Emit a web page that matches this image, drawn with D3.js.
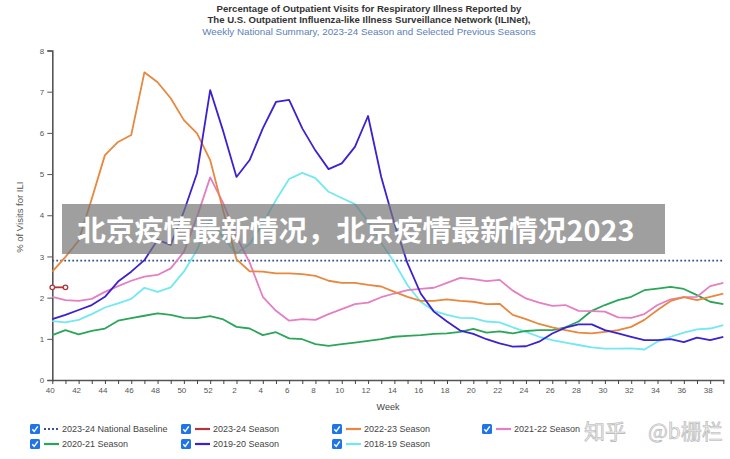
<!DOCTYPE html>
<html>
<head>
<meta charset="utf-8">
<script src="https://cdn.jsdelivr.net/npm/d3@7"></script>
<style>
  html, body { margin: 0; padding: 0; background: #fff; }
  svg { display: block; font-family: "Liberation Sans", Arial, sans-serif; }
</style>
</head>
<body>
<svg id="chart" width="730" height="459"></svg>
<script>
// ---- Data ----
const weeks = [40,41,42,43,44,45,46,47,48,49,50,51,52,1,2,3,4,5,6,7,8,9,10,11,12,13,14,15,16,17,18,19,20,21,22,23,24,25,26,27,28,29,30,31,32,33,34,35,36,37,38,39];
const yTicks = [0,1,2,3,4,5,6,7,8];
const baseline2324 = 2.9;
const season2324 = [2.25, 2.25];
const season2223 = [2.63,2.99,3.38,4.40,5.46,5.78,5.95,7.47,7.23,6.84,6.31,5.99,5.34,4.10,2.93,2.64,2.63,2.59,2.59,2.57,2.53,2.41,2.36,2.36,2.31,2.27,2.14,2.02,1.92,1.92,1.96,1.92,1.90,1.84,1.85,1.58,1.48,1.36,1.28,1.21,1.15,1.13,1.17,1.21,1.29,1.46,1.70,1.92,2.01,1.94,2.02,2.10];
const season2122 = [2.02,1.94,1.92,1.97,2.14,2.28,2.41,2.51,2.55,2.71,3.11,3.96,4.92,4.29,3.48,2.85,2.02,1.68,1.44,1.48,1.46,1.60,1.72,1.84,1.88,2.01,2.10,2.18,2.21,2.24,2.36,2.48,2.45,2.40,2.43,2.17,1.98,1.88,1.80,1.82,1.68,1.67,1.66,1.52,1.51,1.60,1.82,1.96,2.01,2.02,2.28,2.36];
const season2021 = [1.09,1.21,1.11,1.19,1.25,1.44,1.50,1.56,1.62,1.58,1.51,1.50,1.55,1.47,1.29,1.25,1.09,1.16,1.01,0.99,0.87,0.83,0.87,0.91,0.95,0.99,1.05,1.07,1.09,1.12,1.13,1.17,1.24,1.15,1.18,1.13,1.19,1.21,1.21,1.28,1.42,1.68,1.82,1.94,2.02,2.18,2.22,2.26,2.21,2.06,1.90,1.84];
const season1920 = [1.48,1.58,1.70,1.82,2.02,2.39,2.63,2.91,3.40,3.28,4.09,5.02,7.04,6.03,4.93,5.34,6.11,6.75,6.80,6.11,5.57,5.12,5.26,5.66,6.41,4.93,3.80,2.83,2.10,1.66,1.42,1.20,1.12,0.99,0.89,0.81,0.82,0.93,1.13,1.27,1.35,1.35,1.21,1.13,1.05,0.97,0.97,0.99,0.92,1.03,0.97,1.05];
const season1819 = [1.43,1.40,1.46,1.60,1.76,1.86,1.97,2.24,2.14,2.25,2.63,3.16,3.90,3.45,3.07,3.30,3.80,4.37,4.88,5.03,4.90,4.57,4.42,4.27,3.85,3.33,2.85,2.30,1.90,1.68,1.58,1.51,1.50,1.42,1.40,1.28,1.17,1.05,0.97,0.91,0.85,0.79,0.76,0.76,0.77,0.74,0.93,1.05,1.15,1.23,1.25,1.33];

const legendItems = [
  {name: "2023-24 National Baseline", color: "#34558f", dotted: true},
  {name: "2023-24 Season", color: "#b3343c"},
  {name: "2022-23 Season", color: "#e8873d"},
  {name: "2021-22 Season", color: "#e37fc2"},
  {name: "2020-21 Season", color: "#2ba659"},
  {name: "2019-20 Season", color: "#3a22d2"},
  {name: "2018-19 Season", color: "#72e8f0"}
];
const titleLines = [
  "Percentage of Outpatient Visits for Respiratory Illness Reported by",
  "The U.S. Outpatient Influenza-like Illness Surveillance Network (ILINet),",
  "Weekly National Summary, 2023-24 Season and Selected Previous Seasons"
];
const bannerText = "北京疫情最新情况，北京疫情最新情况2023";
const watermarkParts = ["知乎", "@b栅栏"];

// ---- Scales ----
const svg = d3.select("#chart");
const x = d3.scaleLinear().domain([0, weeks.length - 1]).range([52.3, 723.3]);
const y = d3.scaleLinear().domain([0, 8]).range([380, 50.5]);

// ---- Title ----
svg.selectAll("text.title").data(titleLines).enter().append("text")
  .attr("x", 369).attr("y", (d, i) => 11.5 + i * 11.8)
  .attr("text-anchor", "middle")
  .attr("font-size", (d, i) => i < 2 ? 9.6 : 9.8)
  .attr("font-weight", (d, i) => i < 2 ? "bold" : "normal")
  .attr("fill", (d, i) => i < 2 ? "#333" : "#5a80b8")
  .text(d => d);

// ---- Axes ----
const gy = svg.append("g").attr("transform", `translate(${x(0)},0)`)
  .call(d3.axisLeft(y).tickValues(yTicks).tickSize(5).tickPadding(3).tickFormat(d3.format("d")));
gy.select(".domain").attr("stroke", "#555").attr("stroke-width", 1.6);
gy.selectAll(".tick line").attr("stroke", "#555");
gy.selectAll(".tick text").attr("font-size", 8).attr("fill", "#555").attr("font-family", "Liberation Sans, Arial, sans-serif");

const gx = svg.append("g").attr("transform", `translate(0,${y(0)})`)
  .call(d3.axisBottom(x).tickValues(d3.range(weeks.length)).tickSize(4).tickPadding(3)
    .tickFormat(i => i % 2 === 0 ? weeks[i] : ""));
gx.select(".domain").attr("stroke", "#555").attr("stroke-width", 1.6).attr("d", `M${x(0)},0.5H${x(weeks.length-1)+1}`);
gx.selectAll(".tick line").attr("stroke", "#444");
gx.selectAll(".tick text").attr("font-size", 8).attr("fill", "#555").attr("dx", -2.5)
  .attr("font-family", "Liberation Sans, Arial, sans-serif");

svg.append("text").attr("x", 388).attr("y", 410).attr("text-anchor", "middle")
  .attr("font-size", 9).attr("fill", "#444").text("Week");
svg.append("text").attr("transform", `translate(23,${y(4) + 2}) rotate(-90)`)
  .attr("text-anchor", "middle").attr("font-size", 9.5).attr("fill", "#555").text("% of Visits for ILI");

// ---- Lines ----
const line = d3.line().x((d, i) => x(i)).y(d => y(d));
const seriesList = [
  {data: season1819, color: legendItems[6].color},
  {data: season2021, color: legendItems[4].color},
  {data: season2122, color: legendItems[3].color},
  {data: season2223, color: legendItems[2].color},
  {data: season1920, color: legendItems[5].color}
];
svg.append("line")
  .attr("x1", x(0)).attr("x2", x(weeks.length - 1))
  .attr("y1", y(baseline2324)).attr("y2", y(baseline2324))
  .attr("stroke", legendItems[0].color).attr("stroke-width", 1.8)
  .attr("stroke-dasharray", "1.8,2.2");
svg.selectAll("path.series").data(seriesList).enter().append("path")
  .attr("class", "series")
  .attr("d", d => line(d.data))
  .attr("fill", "none").attr("stroke", d => d.color).attr("stroke-width", 1.8)
  .attr("stroke-linejoin", "round");
svg.append("path").attr("d", line(season2324)).attr("fill", "none")
  .attr("stroke", legendItems[1].color).attr("stroke-width", 1.8);
svg.selectAll("circle.pt").data(season2324).enter().append("circle")
  .attr("cx", (d, i) => x(i)).attr("cy", d => y(d)).attr("r", 2.3)
  .attr("fill", "#fff").attr("stroke", legendItems[1].color).attr("stroke-width", 1.3);

// ---- Banner overlay ----
svg.append("rect").attr("x", 62).attr("y", 204).attr("width", 603).attr("height", 50)
  .attr("fill", "rgb(118,118,118)").attr("fill-opacity", 0.7);
svg.append("text").attr("x", 77).attr("y", 228.5)
  .attr("dominant-baseline", "central")
  .attr("font-family", "Noto Sans CJK SC, sans-serif")
  .attr("font-weight", "bold").attr("font-size", 28.8).attr("fill", "#fff")
  .text(bannerText);

// ---- Legend ----
const colX = [30, 181, 332, 482];
const rowY = [429, 444];
const lg = svg.selectAll("g.leg").data(legendItems).enter().append("g")
  .attr("transform", (d, i) => `translate(${colX[i % 4]},${rowY[Math.floor(i / 4)]})`);
lg.append("rect").attr("x", 0).attr("y", -5).attr("width", 10).attr("height", 10).attr("rx", 1.5)
  .attr("fill", "#1f74e6");
lg.append("path").attr("d", "M2.3,0.2 L4.2,2.4 L7.8,-2.6").attr("fill", "none")
  .attr("stroke", "#fff").attr("stroke-width", 1.5);
lg.append("line").attr("x1", 14).attr("x2", 29).attr("y1", 0).attr("y2", 0)
  .attr("stroke", d => d.color).attr("stroke-width", d => d.dotted ? 2 : 2.2)
  .attr("stroke-dasharray", d => d.dotted ? "2,2" : null);
lg.append("text").attr("x", 32).attr("y", 3.2).attr("font-size", 9).attr("fill", "#444")
  .text(d => d.name);

// ---- Watermark ----
svg.selectAll("text.wm").data(watermarkParts).enter().append("text")
  .attr("x", (d, i) => i === 0 ? 584 : 648).attr("y", 439)
  .attr("font-family", "Noto Sans CJK SC, sans-serif").attr("font-size", 21)
  .attr("fill", "#ececec").attr("stroke", "#b5b5b5").attr("stroke-width", 0.6)
  .text(d => d);
</script>
</body>
</html>
